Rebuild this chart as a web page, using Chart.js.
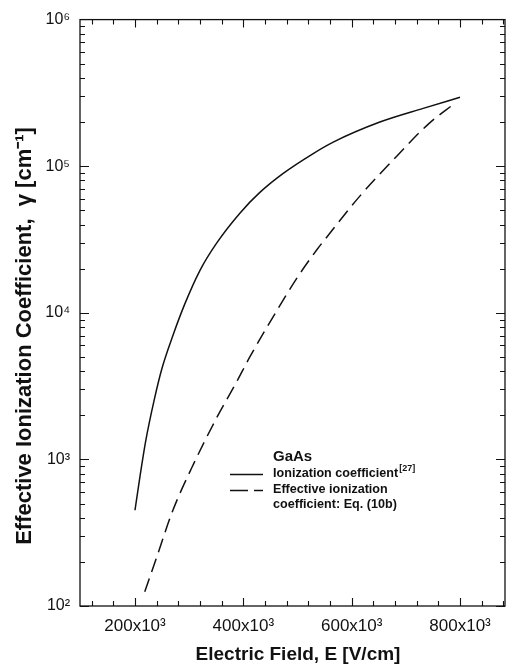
<!DOCTYPE html>
<html>
<head>
<meta charset="utf-8">
<script src="https://cdn.jsdelivr.net/npm/chart.js@4/dist/chart.umd.min.js"></script>
<style>
  html, body { margin: 0; padding: 0; background: #fff; }
  #wrap { width: 511px; height: 670px; }
</style>
</head>
<body>
<div id="wrap"><canvas id="chart" width="511" height="670"></canvas></div>
<script>
// electric field in V/cm, gamma in cm^-1
const ionE = [200e3, 210e3, 220e3, 235e3, 250e3, 270e3, 292e3, 320e3, 351e3, 394e3, 430e3, 473e3, 529e3, 566e3, 652e3, 732e3, 800e3];
const ionGamma = [450, 800, 1350, 2500, 4200, 7000, 11500, 19500, 30000, 48000, 66000, 89000, 122000, 146000, 200000, 248000, 295000];

const effE = [218e3, 240e3, 270e3, 305e3, 351e3, 388e3, 412e3, 458e3, 500e3, 536e3, 560e3, 615e3, 684e3, 741e3, 790e3];
const effGamma = [125, 215, 450, 880, 1930, 3400, 5000, 9800, 17500, 27000, 35000, 62500, 118000, 193000, 268000];

const xTicks = [200e3, 400e3, 600e3, 800e3];
const yTicks = [1e2, 1e3, 1e4, 1e5, 1e6];

const legendTitle = 'GaAs';
const legendIon = 'Ionization coefficient';
const legendIonRef = '[27]';
const legendEff = ['Effective ionization', 'coefficient: Eq. (10b)'];

const xTitle = 'Electric Field, E [V/cm]';
const yTitle = 'Effective Ionization Coefficient,  \u03b3 [cm\u207b\u00b9]';

const sup = {'0':'\u2070','1':'\u00b9','2':'\u00b2','3':'\u00b3','4':'\u2074','5':'\u2075','6':'\u2076','7':'\u2077','8':'\u2078','9':'\u2079'};
function toSup(n) { return String(n).split('').map(c => sup[c]).join(''); }

const FONT = '"Liberation Sans", Arial, sans-serif';

// frame, inward ticks on all sides, axis titles and the legend box
const decor = {
    id: 'decor',
    afterDraw(chart) {
        const ctx = chart.ctx;
        const a = chart.chartArea;
        const x = chart.scales.x, y = chart.scales.y;
        ctx.save();
        ctx.strokeStyle = '#111';
        ctx.lineWidth = 1.3;
        ctx.strokeRect(a.left, a.top, a.right - a.left, a.bottom - a.top);

        ctx.lineWidth = 1.1;
        ctx.beginPath();
        for (let v = 120e3; v < x.max; v += 40e3) {
            const px = Math.round(x.getPixelForValue(v)) + 0.5;
            const len = (Math.round(v / 1000) % 200 === 0) ? 8 : 5;
            ctx.moveTo(px, a.bottom); ctx.lineTo(px, a.bottom - len);
            ctx.moveTo(px, a.top); ctx.lineTo(px, a.top + len);
        }
        for (let d = 2; d <= 5; d++) {
            for (let m = 1; m <= 9; m++) {
                const v = m * Math.pow(10, d);
                const py = Math.round(y.getPixelForValue(v)) + 0.5;
                const len = m === 1 ? 9 : 5;
                ctx.moveTo(a.left, py); ctx.lineTo(a.left + len, py);
                ctx.moveTo(a.right, py); ctx.lineTo(a.right - len, py);
            }
        }
        ctx.stroke();

        // axis titles
        ctx.fillStyle = '#111';
        ctx.font = 'bold 19px ' + FONT;
        ctx.textAlign = 'center';
        ctx.textBaseline = 'middle';
        ctx.fillText(xTitle, 298, 655);
        ctx.save();
        ctx.translate(25, 336);
        ctx.rotate(-Math.PI / 2);
        ctx.font = 'bold 22px ' + FONT;
        ctx.fillText(yTitle, 0, 0);
        ctx.restore();

        // legend
        ctx.textAlign = 'left';
        ctx.font = 'bold 15px ' + FONT;
        ctx.fillText(legendTitle, 273, 457);
        ctx.font = 'bold 12.6px ' + FONT;
        ctx.fillText(legendIon, 273, 474);
        const w = ctx.measureText(legendIon).width;
        ctx.font = 'bold 9px ' + FONT;
        ctx.fillText(legendIonRef, 273 + w + 1, 469);
        ctx.font = 'bold 12.6px ' + FONT;
        ctx.fillText(legendEff[0], 273, 490);
        ctx.fillText(legendEff[1], 273, 505);

        ctx.lineWidth = 1.3;
        ctx.beginPath();
        ctx.moveTo(230, 474.5); ctx.lineTo(263, 474.5);
        ctx.stroke();
        ctx.setLineDash([18, 6]);
        ctx.beginPath();
        ctx.moveTo(230, 490.5); ctx.lineTo(263, 490.5);
        ctx.stroke();
        ctx.restore();
    }
};

new Chart(document.getElementById('chart'), {
    type: 'line',
    data: {
        datasets: [
            {
                label: legendIon,
                data: ionE.map((e, i) => ({ x: e, y: ionGamma[i] })),
                borderColor: '#111',
                borderWidth: 1.5,
                pointRadius: 0,
                cubicInterpolationMode: 'monotone',
                fill: false
            },
            {
                label: legendEff.join(' '),
                data: effE.map((e, i) => ({ x: e, y: effGamma[i] })),
                borderColor: '#111',
                borderWidth: 1.5,
                borderDash: [14, 7],
                pointRadius: 0,
                cubicInterpolationMode: 'monotone',
                fill: false
            }
        ]
    },
    options: {
        responsive: false,
        animation: false,
        layout: { padding: { top: 18, right: 6, left: 0, bottom: 0 } },
        plugins: { legend: { display: false }, tooltip: { enabled: false } },
        scales: {
            x: {
                type: 'linear',
                min: 98.5e3,
                max: 883e3,
                afterBuildTicks: s => { s.ticks = xTicks.map(v => ({ value: v })); },
                afterFit: s => { s.height = 64; },
                grid: { display: false, drawTicks: false },
                border: { display: false },
                ticks: {
                    padding: 10,
                    color: '#111',
                    font: { family: FONT, size: 17 },
                    callback: v => (v / 1000) + 'x10\u00b3',
                    maxRotation: 0
                }
            },
            y: {
                type: 'logarithmic',
                min: 100,
                max: 1e6,
                afterBuildTicks: s => { s.ticks = yTicks.map(v => ({ value: v })); },
                afterFit: s => { s.width = 80; },
                grid: { display: false, drawTicks: false },
                border: { display: false },
                ticks: {
                    padding: 10,
                    color: '#111',
                    font: { family: FONT, size: 16 },
                    callback: v => '10' + toSup(Math.round(Math.log10(v)))
                }
            }
        }
    },
    plugins: [decor]
});
</script>
</body>
</html>
